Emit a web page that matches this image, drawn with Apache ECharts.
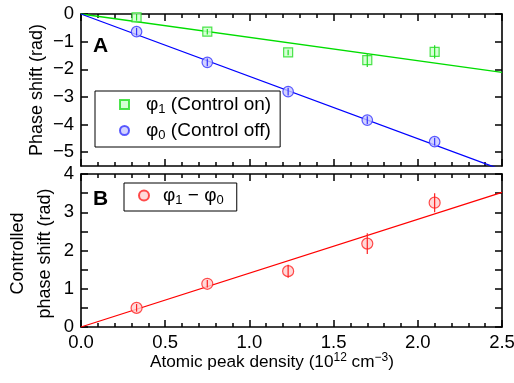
<!DOCTYPE html>
<html><head><meta charset="utf-8">
<script src="https://cdn.jsdelivr.net/npm/echarts@6/dist/echarts.min.js"></script>
<style>html,body{margin:0;padding:0;background:#fff}#c{width:514px;height:383px}</style>
</head><body><div id="c"></div>
<script>
// ---- data ----
const density = [0.33, 0.75, 1.23, 1.70, 2.10];
const phi1 = [-0.12, -0.64, -1.39, -1.67, -1.37];
const phi1Err = [0.12, 0.10, 0.10, 0.25, 0.24];
const phi0 = [-0.64, -1.75, -2.81, -3.84, -4.62];
const phi0Err = [0.14, 0.14, 0.14, 0.14, 0.14];
const diff = [0.50, 1.13, 1.46, 2.18, 3.25];
const diffErr = [0.10, 0.10, 0.17, 0.27, 0.25];
const fitX = [0, 2.5];
const fit1 = [0, -2.11];
const fit0 = [0, -5.64];
const fitDiff = [0, 3.52];
const topYTicks = [0, -1, -2, -3, -4, -5];
const botYTicks = [0, 1, 2, 3, 4];

const FONT = 'Liberation Sans';
const BLACK = '#000';
const FS = 18.5;
const pairs = (xs, ys) => xs.map((x, i) => [x, ys[i]]);

function errSeries(xs, ys, es, color, ai) {
  return {
    type: 'custom', xAxisIndex: ai.x, yAxisIndex: ai.y, z: 5, silent: true,
    data: xs.map((x, i) => [x, ys[i] - es[i], ys[i] + es[i]]),
    encode: { x: 0, y: [1, 2] },
    renderItem(params, api) {
      const lo = api.coord([api.value(0), api.value(1)]);
      const hi = api.coord([api.value(0), api.value(2)]);
      return { type: 'line', shape: { x1: lo[0], y1: lo[1], x2: hi[0], y2: hi[1] },
        style: { stroke: color, lineWidth: 1.2 } };
    }
  };
}

const axisLineOpt = () => ({ show: true, onZero: false, lineStyle: { color: BLACK, width: 1.6 } });
const tickLS = () => ({ color: BLACK, width: 1.5 });

function xAx(grid, pos, showLabel, extra) {
  return Object.assign({
    type: 'value', gridIndex: grid, position: pos, min: 0, max: 2.5, interval: 0.5,
    axisLine: axisLineOpt(),
    axisTick: { show: true, inside: true, length: 7, lineStyle: tickLS() },
    minorTick: { show: true, splitNumber: 5, length: 4, lineStyle: tickLS() },
    splitLine: { show: false },
    axisLabel: { show: showLabel, fontFamily: FONT, fontSize: FS, color: BLACK, margin: 6,
      formatter: v => v.toFixed(1) }
  }, extra || {});
}

const minus = v => (v < 0 ? '\u2212' + Math.abs(v) : String(v));

function yTop(pos, showLabel, extra) {
  return Object.assign({
    type: 'value', gridIndex: 0, position: pos, min: -5.5, max: 0,
    axisLine: axisLineOpt(),
    axisTick: { show: true, inside: true, length: 7, lineStyle: tickLS(), customValues: topYTicks },
    splitLine: { show: false },
    axisLabel: { show: showLabel, fontFamily: FONT, fontSize: FS, color: BLACK, margin: 7,
      customValues: topYTicks, formatter: minus }
  }, extra || {});
}

function yBot(pos, showLabel, extra) {
  return Object.assign({
    type: 'value', gridIndex: 1, position: pos, min: 0, max: 4, interval: 1,
    axisLine: axisLineOpt(),
    axisTick: { show: true, inside: true, length: 7, lineStyle: tickLS() },
    minorTick: { show: true, splitNumber: 2, length: 7, lineStyle: tickLS() },
    splitLine: { show: false },
    axisLabel: { show: showLabel, fontFamily: FONT, fontSize: FS, color: BLACK, margin: 7 }
  }, extra || {});
}

const chart = echarts.init(document.getElementById('c'), null, { renderer: 'canvas' });

const legendNames = {
  phi1: '{g1|φ}{s|1}{g| (Control on)}',
  phi0: '{g1|φ}{s|0}{g| (Control off)}',
  diff: '{g2|φ}{s|1}{g| \u2212 φ}{s|0}'
};
const legendRich = {
  g1: { fontFamily: FONT, fontSize: 19, color: BLACK, padding: [0, 0, 0, 12] },
  g2: { fontFamily: FONT, fontSize: 19, color: BLACK, padding: [0, 0, 0, 9] },
  g: { fontFamily: FONT, fontSize: 19, color: BLACK },
  s: { fontFamily: FONT, fontSize: 13, color: BLACK, padding: [10, 0, 0, 0] }
};

chart.setOption({
  animation: false,
  backgroundColor: '#fff',
  grid: [
    { left: 81, top: 14, width: 421, height: 152, containLabel: false, outerBoundsMode: 'none' },
    { left: 81, top: 174, width: 421, height: 153, containLabel: false, outerBoundsMode: 'none' }
  ],
  xAxis: [
    xAx(0, 'bottom', false),
    xAx(0, 'top', false),
    xAx(1, 'bottom', true, {
      name: 'Atomic peak density (10{sup|12} cm{sup|\u22123})', nameLocation: 'middle', nameGap: 25,
      nameMoveOverlap: false,
      nameTextStyle: { fontFamily: FONT, fontSize: 17.2, color: BLACK, padding: [0, 39, 0, 0],
        rich: { sup: { fontFamily: FONT, fontSize: 12, color: BLACK, padding: [0, 0, 9, 0] } } }
    }),
    xAx(1, 'top', false)
  ],
  yAxis: [
    yTop('left', true, { name: 'Phase shift (rad)', nameLocation: 'middle', nameGap: 35,
      nameMoveOverlap: false,
      nameTextStyle: { fontFamily: FONT, fontSize: 18, color: BLACK } }),
    yTop('right', false),
    yBot('left', true, { name: 'Controlled\nphase shift (rad)', nameLocation: 'middle', nameGap: 22,
      nameMoveOverlap: false,
      nameTextStyle: { fontFamily: FONT, fontSize: 18, color: BLACK, lineHeight: 27, padding: [0, 6, 0, 0] } }),
    yBot('right', false)
  ],
  legend: [
    { data: [{ name: 'phi1', icon: 'rect' }, { name: 'phi0', icon: 'circle' }],
      orient: 'vertical', left: 95, top: 91,
      borderColor: BLACK, borderWidth: 1, padding: [4, 9, 5, 24], itemGap: 5,
      itemWidth: 9, itemHeight: 9, selectedMode: false,
      formatter: n => legendNames[n], textStyle: { rich: legendRich } },
    { data: [{ name: 'diff', icon: 'circle' }],
      orient: 'vertical', left: 124, top: 183,
      borderColor: BLACK, borderWidth: 1, padding: [3, 13, 4, 14],
      itemWidth: 10, itemHeight: 10, selectedMode: false,
      formatter: n => legendNames[n], textStyle: { rich: legendRich } }
  ],
  graphic: [
    { type: 'text', left: 93, top: 36, style: { text: 'A', font: 'bold 21px "Liberation Sans"', fill: BLACK } },
    { type: 'text', left: 93, top: 189, style: { text: 'B', font: 'bold 21px "Liberation Sans"', fill: BLACK } }
  ],
  series: [
    { type: 'line', name: 'fit1', xAxisIndex: 0, yAxisIndex: 0, data: pairs(fitX, fit1), symbol: 'none',
      lineStyle: { color: '#00dd00', width: 1.3 }, silent: true, z: 2 },
    { type: 'line', name: 'fit0', xAxisIndex: 0, yAxisIndex: 0, data: pairs(fitX, fit0), symbol: 'none',
      lineStyle: { color: '#0000ff', width: 1.3 }, silent: true, z: 2, clip: true },
    { type: 'scatter', name: 'phi1', xAxisIndex: 0, yAxisIndex: 0, data: pairs(density, phi1),
      symbol: 'rect', symbolSize: 9, itemStyle: { color: '#ccffcc', borderColor: '#22dd22', borderWidth: 1.2 }, z: 3 },
    { type: 'scatter', name: 'phi0', xAxisIndex: 0, yAxisIndex: 0, data: pairs(density, phi0),
      symbol: 'circle', symbolSize: 10.5, itemStyle: { color: '#c8c8ff', borderColor: '#3333ff', borderWidth: 1.2 }, z: 3 },
    errSeries(density, phi1, phi1Err, '#22dd22', { x: 0, y: 0 }),
    errSeries(density, phi0, phi0Err, '#3333ff', { x: 0, y: 0 }),
    { type: 'line', name: 'fitDiff', xAxisIndex: 2, yAxisIndex: 2, data: pairs(fitX, fitDiff), symbol: 'none',
      lineStyle: { color: '#ff0000', width: 1.3 }, silent: true, z: 2 },
    { type: 'scatter', name: 'diff', xAxisIndex: 2, yAxisIndex: 2, data: pairs(density, diff),
      symbol: 'circle', symbolSize: 11, itemStyle: { color: '#ffd0d0', borderColor: '#ff2020', borderWidth: 1.2 }, z: 3 },
    errSeries(density, diff, diffErr, '#ff2020', { x: 2, y: 2 })
  ]
});
</script></body></html>
